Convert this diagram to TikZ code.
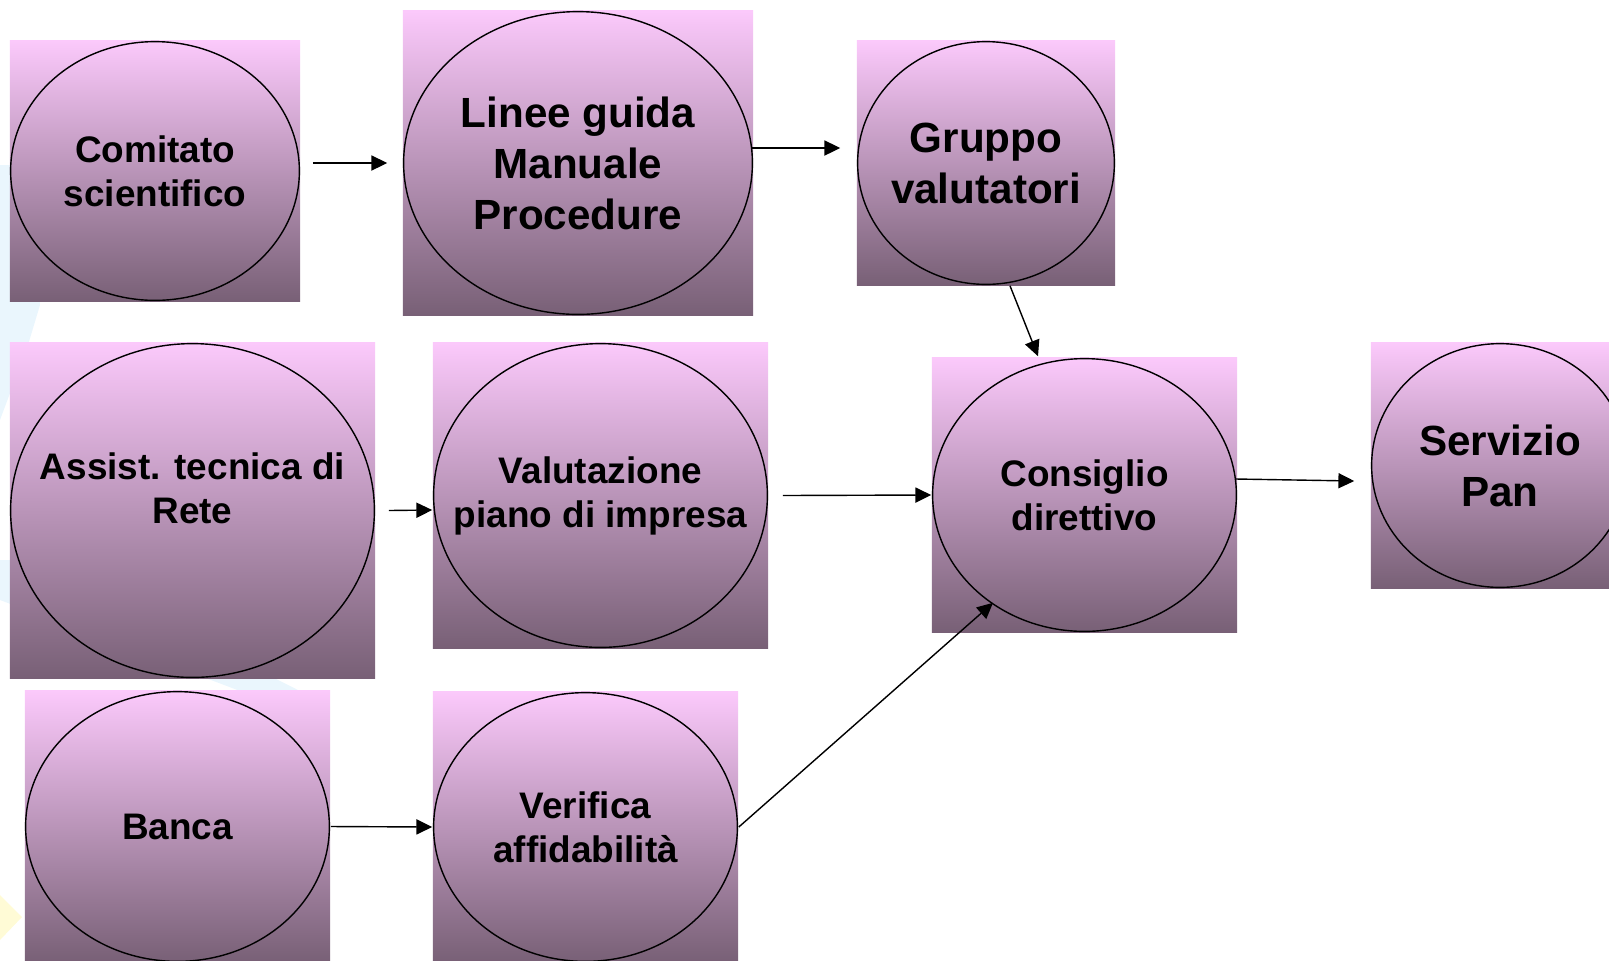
\documentclass[tikz,border=0pt]{standalone}
\usepackage{fontspec}
\setmainfont{Liberation Sans}
\usetikzlibrary{calc,arrows.meta}

\definecolor{boxtop}{RGB}{251,201,251}
\definecolor{boxmid}{RGB}{203,160,201}
\definecolor{boxbot}{RGB}{120,96,118}
\definecolor{logoblue}{RGB}{234,246,253}
\definecolor{logoyellow}{RGB}{255,251,214}

\begin{document}
\begin{tikzpicture}[x=0.01cm, y=-0.01cm,
    boxfont/.style={align=center, inner sep=0pt, font=\bfseries\fontsize{10.5}{12.5}\selectfont},
    box/.style={boxfont, rectangle, top color=boxtop, middle color=boxmid, bottom color=boxbot},
    big/.style={font=\bfseries\fontsize{12}{14.5}\selectfont},
    arr/.style={-{Triangle[length=4.5pt,width=4.3pt]}, line width=0.4pt}]

            \useasboundingbox (0,0) rectangle (1609,960);
            \clip (0,0) rectangle (1609,960);

            % Draw the faint logo behind the boxes
            \fill[logoblue] (0,165) -- (38,165) -- (40,305) -- (28,345) -- (0,420) -- cycle;
            \fill[logoblue] (0,560) -- (40,560) -- (300,691) -- (240,691) -- (0,600) -- cycle;
            \fill[logoyellow] (0,895) -- (22,917) -- (0,940) -- cycle;

            % Draw the boxes, top row
            \node[box, minimum width=2.90cm, minimum height=2.60cm] (com) at (155,171) {Comitato\\scientifico};
            \node[box, big, minimum width=3.50cm, minimum height=3.04cm] (lin) at (578,163) {Linee guida\\Manuale\\Procedure};
            \node[box, big, minimum width=2.58cm, minimum height=2.44cm] (gru) at (986,163) {Gruppo\\valutatori};

            % Draw the boxes, middle row
            \node[box, minimum width=3.65cm, minimum height=3.35cm] (ass) at (192.5,510.5) {};
            \node[box, minimum width=3.35cm, minimum height=3.05cm] (val) at (600.5,495.5) {Valutazione\\piano di impresa};
            \node[box, minimum width=3.05cm, minimum height=2.74cm] (con) at (1084.5,495) {Consiglio\\direttivo};
            \node[box, big, minimum width=2.58cm, minimum height=2.45cm] (ser) at (1500,465.5) {Servizio\\Pan};

            % Draw the boxes, bottom row
            \node[box, minimum width=3.05cm, minimum height=2.71cm] (ban) at (177.5,826.5) {Banca};
            \node[box, minimum width=3.05cm, minimum height=2.70cm] (ver) at (585.5,827) {Verifica\\affidabilità};

            % Draw the ellipse inside each box
            \foreach \b in {com,lin,gru,ass,val,con,ser,ban,ver}
                \draw[line width=0.4pt] let \p1=($(\b.north east)-(\b.center)$) in
                    (\b.center) ellipse [x radius=\x1-0.4pt, y radius=\y1-0.4pt];

            % The text of this one sits above the centre
            \node[boxfont] (asstext) at (192.5,488) {Assist. tecnica di\\Rete};

            % Draw the arrows between the boxes
            \draw[arr] ($(com.east)+(12,-8)$) -- ($(lin.west)+(-15,0)$);
            \draw[arr] ($(lin.east)+(-2,-15)$) -- ($(gru.west)+(-16,-15)$);
            \draw[arr] ($(gru.south)+(24,0)$) -- ($(con.north)+(-46.5,-1)$);
            \draw[arr] ($(ass.east)+(13,0)$) -- ($(val.west)+(0,14.5)$);
            \draw[arr] ($(val.east)+(14,0)$) -- (con.west);
            \draw[arr] ($(con.east)+(-2,-16)$) -- ($(ser.west)+(-16,15.5)$);
            \draw[arr] (ban.east) -- (ver.west);
            \draw[arr] (ver.east) -- ($(con.south)+(-91.5,-30)$);

\end{tikzpicture}
\end{document}
